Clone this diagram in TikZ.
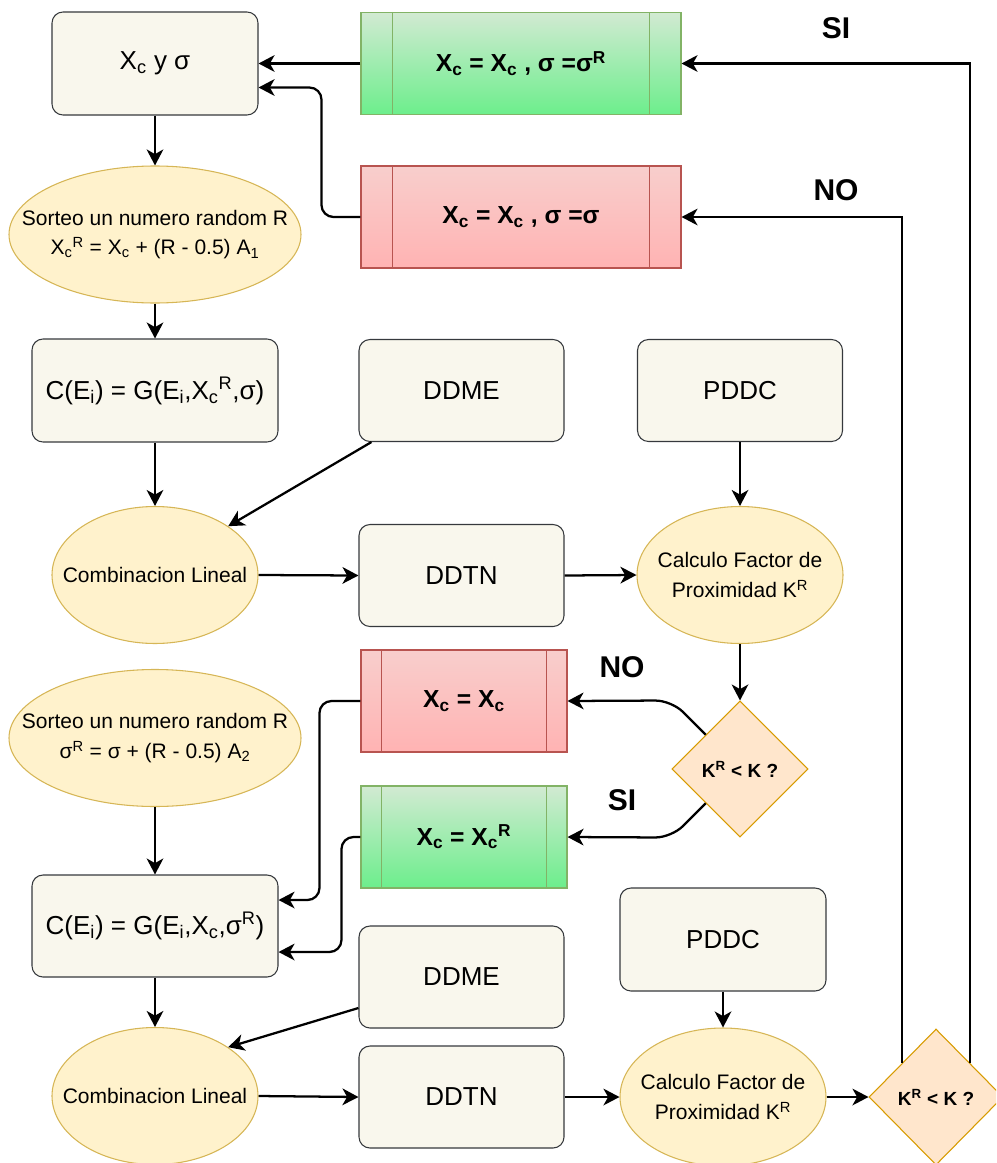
\documentclass[tikz,border=0pt]{standalone}
\usepackage{fontspec}
\setmainfont{Liberation Sans}
\usetikzlibrary{arrows.meta,shapes.geometric}
\newdimen\px \px=0.75pt
\definecolor{boxfill}{HTML}{F9F7ED}
\definecolor{boxline}{HTML}{36393D}
\definecolor{ovalfill}{HTML}{FFF2CC}
\definecolor{ovalline}{HTML}{D6B656}
\definecolor{decfill}{HTML}{FFE6CC}
\definecolor{decline}{HTML}{D79B00}
\definecolor{redtop}{HTML}{F8CECC}
\definecolor{redbot}{HTML}{FFB3B3}
\definecolor{redline}{HTML}{B85450}
\definecolor{greentop}{HTML}{D2EAD2}
\definecolor{greenbot}{HTML}{6CEE8C}
\definecolor{greenline}{HTML}{82B366}
\tikzset{
  stepbox/.style={rectangle, draw=boxline, fill=boxfill, line width=0.8pt,
    rounded corners=11\px, minimum width=205\px, minimum height=102\px,
    inner sep=0pt, font=\fontsize{19.5}{23}\selectfont},
  % the ellipse keeps its given size; its text sits on top as a centred label
  oval/.style={ellipse, draw=ovalline, fill=ovalfill, line width=0.8pt,
    minimum width=206\px, minimum height=137\px, inner sep=0pt,
    label={[align=center, font=\fontsize{15.75}{22}\selectfont]center:#1}},
  proc/.style={rectangle, line width=0.8pt, minimum height=102\px,
    inner sep=0pt, font=\bfseries\fontsize{18.5}{22}\selectfont},
  redproc/.style={proc, draw=redline, top color=redtop, bottom color=redbot},
  greenproc/.style={proc, draw=greenline, top color=greentop, bottom color=greenbot},
  decision/.style={diamond, draw=decline, fill=decfill, line width=0.8pt,
    inner sep=0pt, font=\bfseries\fontsize{14.25}{17}\selectfont},
  conn/.style={line width=1.7pt, draw=black,
    -{Stealth[length=12pt,width=12.5pt,inset=3.5pt]}},
  answer/.style={font=\bfseries\fontsize{22.5}{26}\selectfont},
}
\begin{document}
\begin{tikzpicture}[x=0.75pt,y=-0.75pt]
\useasboundingbox (0,0) rectangle (996,1163);
\clip (0,0) rectangle (996,1163);

% first pass: vary X_c
\node[stepbox, minimum width=206\px, minimum height=103\px] (b1) at (155,63.5) {X\textsubscript{c} y σ};
\node[greenproc, minimum width=320\px] (g1) at (521,63.5) {X\textsubscript{c} = X\textsubscript{c} , σ =σ\textsuperscript{R}};
\node[redproc, minimum width=320\px] (r1) at (521,217) {X\textsubscript{c} = X\textsubscript{c} , σ =σ};
\node[oval={Sorteo un numero random R\\X\textsubscript{c}\textsuperscript{R} = X\textsubscript{c} + (R - 0.5) A\textsubscript{1}}, minimum width=292\px] (e1) at (155,234.5) {};
\node[stepbox, minimum width=246\px, minimum height=103\px] (c1) at (155,390.5) {C(E\textsubscript{i}) = G(E\textsubscript{i},X\textsubscript{c}\textsuperscript{R},σ)};
\node[stepbox] (dd1) at (461.5,390.5) {DDME};
\node[stepbox] (p1) at (740,390.5) {PDDC};
\node[oval={Combinacion Lineal}] (cl1) at (155,575) {};
\node[stepbox] (dt1) at (461.5,575.5) {DDTN};
\node[oval={Calculo Factor de\\Proximidad K\textsuperscript{R}}] (k1) at (740,575) {};
\node[decision, minimum width=136\px, minimum height=136\px] (d1) at (740,769) {K\textsuperscript{R} < K ?};

% second pass: vary sigma
\node[redproc, minimum width=206\px] (r2) at (464,701) {X\textsubscript{c} = X\textsubscript{c}};
\node[greenproc, minimum width=206\px] (g2) at (464,837) {X\textsubscript{c} = X\textsubscript{c}\textsuperscript{R}};
\node[oval={Sorteo un numero random R\\σ\textsuperscript{R} = σ + (R - 0.5) A\textsubscript{2}}, minimum width=292\px] (e2) at (155,738) {};
\node[stepbox, minimum width=246\px] (c2) at (155,926) {C(E\textsubscript{i}) = G(E\textsubscript{i},X\textsubscript{c},σ\textsuperscript{R})};
\node[stepbox] (dd2) at (461.5,977) {DDME};
\node[stepbox, minimum width=206\px, minimum height=103\px] (p2) at (723,939.5) {PDDC};
\node[oval={Combinacion Lineal}] (cl2) at (155,1096) {};
\node[stepbox] (dt2) at (461.5,1097) {DDTN};
\node[oval={Calculo Factor de\\Proximidad K\textsuperscript{R}}, minimum height=138\px] (k2) at (723,1097) {};
\node[decision, minimum width=134\px, minimum height=136\px] (d2) at (936,1097) {K\textsuperscript{R} < K ?};

% inner bars of the process boxes
\foreach \n/\o/\c in {g1/32/greenline, r1/32/redline, g2/21/greenline, r2/21/redline}{
  \draw[\c, line width=0.8pt] ([xshift=\o\px]\n.north west) -- ([xshift=\o\px]\n.south west);
  \draw[\c, line width=0.8pt] ([xshift=-\o\px]\n.north east) -- ([xshift=-\o\px]\n.south east);
}

% answer labels
\node[answer] (si1) at (836,28) {SI};
\node[answer] (no1) at (836,190) {NO};
\node[answer] (no2) at (622,667) {NO};
\node[answer] (si2) at (622,800) {SI};

% straight flow
\draw[conn] (b1.south) -- (e1.north);
\draw[conn] (e1.south) -- (c1.north);
\draw[conn] (c1.south) -- (cl1.north);
\draw[conn] ([xshift=13\px]dd1.south west) -- (cl1.north east);
\draw[conn] (cl1.east) -- (dt1.west);
\draw[conn] (dt1.east) -- (k1.west);
\draw[conn] (p1.south) -- (k1.north);
\draw[conn] (k1.south) -- (d1.north);

\draw[conn] (e2.south) -- (c2.north);
\draw[conn] (c2.south) -- (cl2.north);
\draw[conn] ([yshift=-31\px]dd2.west) -- (cl2.north east);
\draw[conn] (cl2.east) -- (dt2.west);
\draw[conn] (dt2.east) -- (k2.west);
\draw[conn] (p2.south) -- (k2.north);
\draw[conn] (k2.east) -- (d2.west);

% decision branches
\draw[conn, rounded corners=16\px] (d1.north west) -- (d1.west |- d1.north) -- (r2.east);
\draw[conn, rounded corners=16\px] (d1.south west) -- (d1.west |- d1.south) -- (g2.east);
\draw[conn, rounded corners=12\px] (r2.west) -- ++(-41\px,0) |- ([yshift=26\px]c2.east);
\draw[conn, rounded corners=12\px] (g2.west) -- ++(-19\px,0) |- ([yshift=-26\px]c2.east);

\draw[conn] (d2.north east) |- (g1.east);
\draw[conn] (d2.north west) |- (r1.east);
\draw[conn] (g1.west) -- (b1.east);
\draw[conn, rounded corners=12\px] (r1.west) -- ++(-39\px,0) |- ([yshift=-24\px]b1.east);
\end{tikzpicture}
\end{document}
